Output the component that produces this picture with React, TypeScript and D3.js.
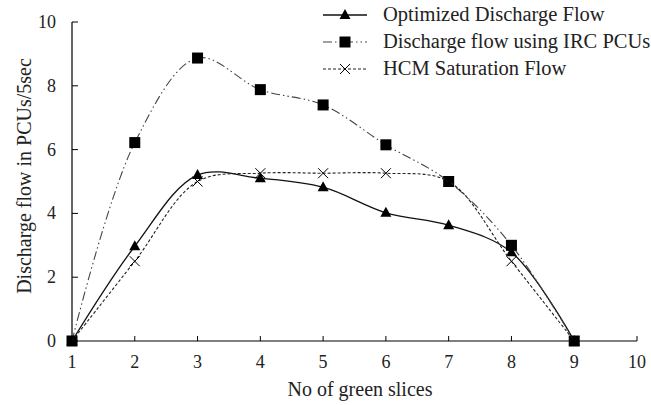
import React from 'react';
import * as d3 from 'd3';

const slices = [1, 2, 3, 4, 5, 6, 7, 8, 9];
const optimizedFlow = [0, 2.97, 5.2, 5.1, 4.82, 4.02, 3.63, 2.78, 0];
const ircFlow = [0, 6.22, 8.87, 7.88, 7.4, 6.15, 5.0, 3.0, 0];
const hcmFlow = [0, 2.5, 5.0, 5.26, 5.26, 5.26, 5.0, 2.5, 0];
const xTicks = [1, 2, 3, 4, 5, 6, 7, 8, 9, 10];
const yTicks = [0, 2, 4, 6, 8, 10];

const seriesNames = ['Optimized Discharge Flow', 'Discharge flow using IRC PCUs', 'HCM Saturation Flow'];

const W = 651;
const H = 405;
const FONT = "'Liberation Serif', 'Times New Roman', Times, serif";

const App = () => {
  const x = d3.scaleLinear().domain([1, 10]).range([72, 637]);
  const y = d3.scaleLinear().domain([0, 10]).range([341, 22]);

  const line = d3.line<number>()
    .x((_, i) => x(slices[i]))
    .y(d => y(d))
    .curve(d3.curveCatmullRom.alpha(0.5));

  const series = [
    { name: seriesNames[0], values: optimizedFlow, dash: '', width: 1.3, color: '#111', marker: 'tri' },
    { name: seriesNames[1], values: ircFlow, dash: '9,3,1.5,3,1.5,3', width: 1.1, color: '#444', marker: 'sq' },
    { name: seriesNames[2], values: hcmFlow, dash: '3,2', width: 1.1, color: '#222', marker: 'x' },
  ];

  const marker = (kind: string, cx: number, cy: number, key: string) => {
    if (kind === 'sq') {
      return <rect key={key} x={cx - 5.5} y={cy - 5.5} width={11} height={11} fill="#000" />;
    }
    if (kind === 'tri') {
      return <path key={key} d={`M${cx},${cy - 6}L${cx + 5.5},${cy + 4}L${cx - 5.5},${cy + 4}Z`} fill="#000" />;
    }
    return (
      <path key={key} d={`M${cx - 5},${cy - 5}L${cx + 5},${cy + 5}M${cx + 5},${cy - 5}L${cx - 5},${cy + 5}`}
        stroke="#000" strokeWidth={1} fill="none" />
    );
  };

  return (
    <svg width={W} height={H} style={{ position: 'absolute', left: 0, top: 0, fontFamily: FONT }}>
      <rect width={W} height={H} fill="#fff" />

      {/* axes */}
      <line x1={x(1)} x2={x(10)} y1={y(0)} y2={y(0)} stroke="#000" strokeWidth={1.2} />
      <line x1={x(1)} x2={x(1)} y1={y(0)} y2={y(10)} stroke="#000" strokeWidth={1.2} />
      {xTicks.map(t => (
        <g key={'xt' + t}>
          <line x1={x(t)} x2={x(t)} y1={y(0)} y2={y(0) - 5} stroke="#000" />
          <text x={x(t)} y={368} textAnchor="middle" fontSize={18} fill="#222">{t}</text>
        </g>
      ))}
      {yTicks.map(t => (
        <g key={'yt' + t}>
          <line x1={x(1)} x2={x(1) + 6} y1={y(t)} y2={y(t)} stroke="#000" />
          <text x={56} y={y(t) + 6} textAnchor="end" fontSize={18} fill="#222">{t}</text>
        </g>
      ))}
      <text x={360} y={396} textAnchor="middle" fontSize={20} fill="#222">No of green slices</text>
      <text transform={`translate(31,176) rotate(-90)`} textAnchor="middle" fontSize={20} fill="#222">
        Discharge flow in PCUs/5sec
      </text>

      {/* series */}
      {series.map(s => (
        <g key={s.name}>
          <path d={line(s.values) || ''} fill="none" stroke={s.color} strokeWidth={s.width} strokeDasharray={s.dash} />
          {s.values.map((v, i) => marker(s.marker, x(slices[i]), y(v), s.name + i))}
        </g>
      ))}

      {/* legend */}
      {series.map((s, i) => {
        const ly = 15 + i * 27;
        return (
          <g key={'lg' + i}>
            <line x1={323} x2={367} y1={ly} y2={ly} stroke={s.color} strokeWidth={s.width} strokeDasharray={s.dash} />
            {marker(s.marker, 345, ly, 'lm' + i)}
            <text x={383} y={ly + 6} fontSize={20.5} fill="#222">{s.name}</text>
          </g>
        );
      })}
    </svg>
  );
};

export default App;
